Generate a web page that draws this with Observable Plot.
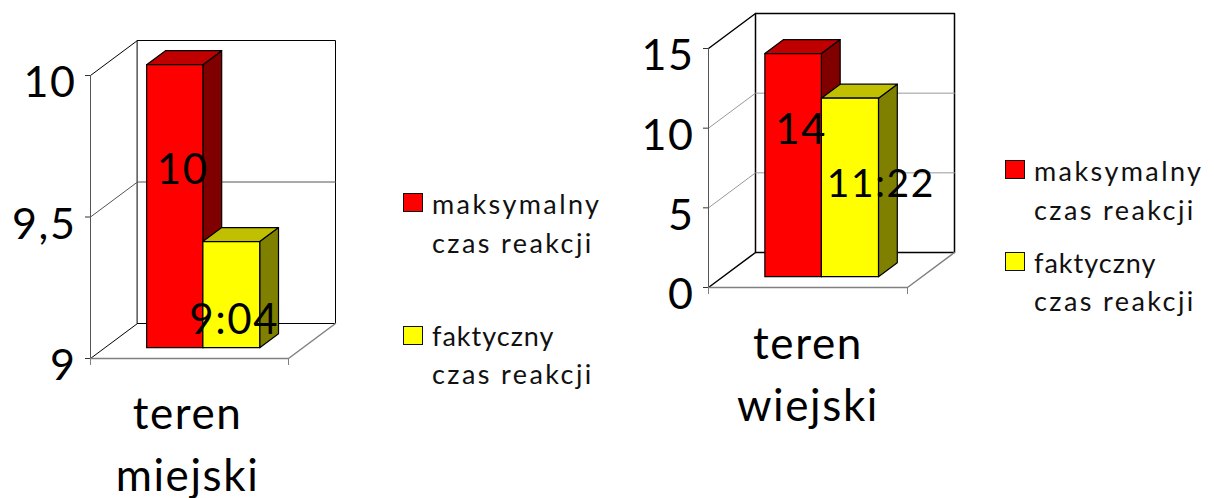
<!DOCTYPE html>
<html><head><meta charset="utf-8">
<script src="https://cdn.jsdelivr.net/npm/d3@7"></script>
<script src="https://cdn.jsdelivr.net/npm/@observablehq/plot@0.6"></script>
<style>
html,body{margin:0;padding:0;background:#fff;overflow:hidden}
#root{position:relative;width:1214px;height:498px;font-family:Lato,sans-serif;color:#000}
#root svg{position:absolute;top:0;background:transparent;overflow:visible}
#root svg text{letter-spacing:1.6px}
.sw{position:absolute;width:18px;height:17px;border:1.5px solid #111}
.lg{position:absolute;font-size:27px;letter-spacing:2.4px;line-height:30px;white-space:nowrap;color:#111}
</style></head><body><div id="root"></div>
<script>
const seriesNames = [["maksymalny","czas reakcji"],["faktyczny","czas reakcji"]];
const urbanCategory = ["teren","miejski"];
const ruralCategory = ["teren","wiejski"];
const urbanValues = [10, 9.375];
const urbanLabels = ["10","9:04"];
const urbanTicks = [9, 9.5, 10];
const ruralValues = [14, 11.2];
const ruralLabels = ["14","11:22"];
const ruralTicks = [0, 5, 10, 15];

const faceColors = [
  {front:"#ff0000", top:"#c00000", side:"#800000"},
  {front:"#ffff00", top:"#c0c000", side:"#808000"}
];
const edges = [0.21, 0.494, 0.781];

function chart(o){
  const [lo, hi] = o.domain;
  const pxH = o.height - o.mt - o.mb, pxW = o.width - o.ml - o.mr;
  const kx = 47/pxW, ky = 35/pxH*(hi-lo);
  const P = (u,v,d=0) => ({x:u+d*kx, y:v+d*ky});
  const path = (pts,opts) => Plot.line(pts,{x:"x",y:"y",...opts});
  const fmt = d => String(d).replace(".",",");
  const marks = [];
  // back wall
  marks.push(path([P(0,lo,1),P(1,lo,1),P(1,hi,1),P(0,hi,1)],{curve:"linear-closed",fill:"#fff",stroke:"#000",strokeWidth:o.wall}));
  // inner gridlines
  o.ticks.filter(t=>t!==lo&&t!==hi).forEach(t=>
    marks.push(path([P(0,t,0),P(0,t,1),P(1,t,1)],{stroke:o.grid,strokeWidth:1})));
  // side wall top + floor
  marks.push(path([P(0,hi,0),P(0,hi,1)],{stroke:"#000",strokeWidth:o.wall}));
  marks.push(path([P(0,lo,0),P(0,lo,1)],{stroke:"#000",strokeWidth:o.wall}));
  marks.push(path([P(0,lo,0),P(0,hi,0)],{stroke:"#555",strokeWidth:1}));
  marks.push(path([P(0,lo,0),P(1,lo,0),P(1,lo,1)],{stroke:"#808080",strokeWidth:1.5}));
  // axes
  marks.push(Plot.axisX({ticks:[0,1],tickSize:7,tickFormat:()=>"",stroke:"#808080",label:null}));
  marks.push(Plot.axisY({ticks:o.ticks,tickSize:5,tickFormat:()=>"",stroke:"#333",label:null}));
  marks.push(Plot.axisY({ticks:o.ticks,tickSize:0,tickPadding:o.tickPad,dy:o.tickDy,tickFormat:fmt,fontSize:43,fill:"#000",fontFamily:"Lato",label:null}));
  // bars
  const d0=0.31, d1=0.71;
  o.values.forEach((v,i)=>{
    const a=edges[i], b=edges[i+1], c=faceColors[i];
    const face=(pts,fill)=>marks.push(path(pts,{curve:"linear-closed",fill,stroke:"#000",strokeWidth:1.2}));
    face([P(b,lo,d0),P(b,lo,d1),P(b,v,d1),P(b,v,d0)],c.side);
    face([P(a,v,d0),P(b,v,d0),P(b,v,d1),P(a,v,d1)],c.top);
    face([P(a,lo,d0),P(b,lo,d0),P(b,v,d0),P(a,v,d0)],c.front);
  });
  // value labels
  o.values.forEach((v,i)=>{
    const mid=P((edges[i]+edges[i+1])/2,(lo+v)/2,d0);
    marks.push(Plot.text([o.labels[i]],{x:()=>mid.x,y:()=>mid.y,text:d=>d,dx:o.off[i][0],dy:o.off[i][1],fontSize:o.lblSize[i],fill:"#000",fontFamily:"Lato",lineAnchor:"middle"}));
  });
  // category label
  marks.push(Plot.text([o.category.join("\n")],{x:()=>o.catX,y:()=>lo,text:d=>d,dy:o.catDy,fontSize:44,lineHeight:o.catLH,lineAnchor:"top",fill:"#000",fontFamily:"Lato"}));
  const svg = Plot.plot({
    width:o.width,height:o.height,marginLeft:o.ml,marginRight:o.mr,marginTop:o.mt,marginBottom:o.mb,
    x:{domain:[0,1],axis:null},y:{domain:o.domain,axis:null},
    style:{background:"transparent",overflow:"visible"},
    marks
  });
  svg.style.left=o.left+"px";
  document.getElementById("root").appendChild(svg);
}

chart({left:0,width:620,height:498,ml:90,mr:332,mt:75,mb:140,domain:[9,10],ticks:urbanTicks,values:urbanValues,labels:urbanLabels,category:urbanCategory,
  off:[[8,-36],[3,26]],lblSize:[42,42],wall:1,grid:"#555",tickPad:14,tickDy:8,catDy:27,catLH:1.4,catX:0.49});
chart({left:620,width:594,height:498,ml:88,mr:307,mt:48,mb:211,domain:[0,15],ticks:ruralTicks,values:ruralValues,labels:ruralLabels,category:ruralCategory,
  off:[[8,-35],[31,-3]],lblSize:[42,39],wall:1.5,grid:"#999",tickPad:14,tickDy:8,catDy:28,catLH:1.4,catX:0.5});

function legend(items){
  const root=document.getElementById("root");
  items.forEach(it=>{
    const s=document.createElement("div");s.className="sw";s.style.left=it.x+"px";s.style.top=it.swTop+"px";s.style.background=it.color;root.appendChild(s);
    it.lines.forEach((t,i)=>{const e=document.createElement("div");e.className="lg";e.textContent=t;e.style.left=(it.x+29)+"px";e.style.top=(it.base[i]-24)+"px";
      if(t==="faktyczny")e.style.letterSpacing="1px";
      root.appendChild(e);});
  });
}
legend([
 {x:403,swTop:193,color:"#ff0000",lines:seriesNames[0],base:[213,252]},
 {x:403,swTop:326,color:"#ffff00",lines:seriesNames[1],base:[345,383]},
 {x:1005,swTop:160,color:"#ff0000",lines:seriesNames[0],base:[180,219]},
 {x:1005,swTop:252,color:"#ffff00",lines:seriesNames[1],base:[272,310]}
]);
</script></body></html>
